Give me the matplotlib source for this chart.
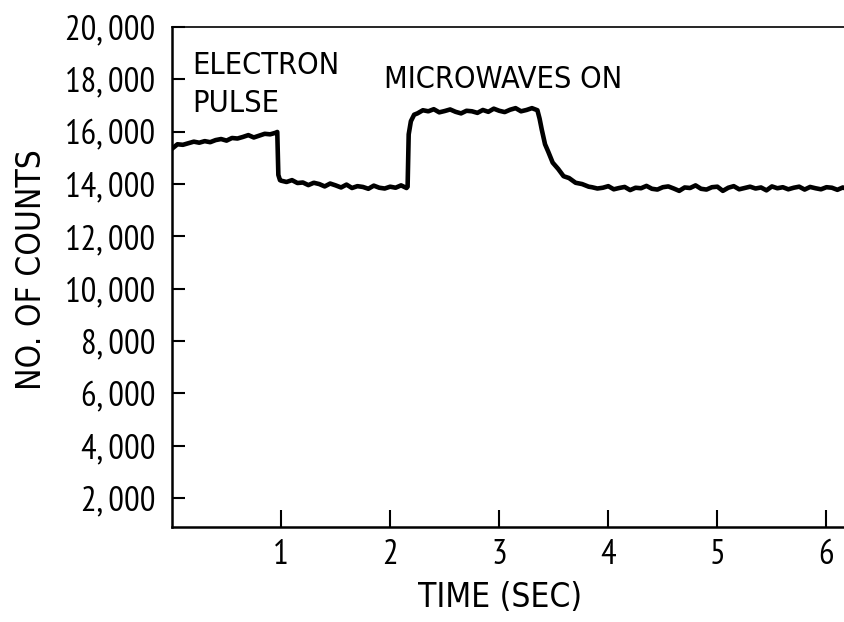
import matplotlib
matplotlib.use("Agg")
import matplotlib.pyplot as plt

plt.rcParams['font.family'] = ['PT Sans Narrow', 'DejaVu Sans']
label_font = dict(family='DejaVu Sans', stretch='condensed')

# trace, one segment at a time (time in sec, counts)
time_a = [0.00, 0.05, 0.10, 0.15, 0.20, 0.25, 0.30, 0.35, 0.40, 0.45,
          0.50, 0.55, 0.60, 0.65, 0.70, 0.75, 0.80, 0.85, 0.90, 0.95,
          0.965, 0.975, 0.99]
counts_a = [15350, 15520, 15500, 15560, 15620, 15580, 15640, 15600, 15680, 15720,
            15660, 15760, 15740, 15800, 15870, 15780, 15850, 15920, 15900, 15960,
            15990, 14350, 14150]

time_b = [1.00, 1.05, 1.10, 1.15, 1.20, 1.25, 1.30, 1.35, 1.40, 1.45,
          1.50, 1.55, 1.60, 1.65, 1.70, 1.75, 1.80, 1.85, 1.90, 1.95,
          2.00, 2.05, 2.10, 2.15, 2.16, 2.17, 2.19, 2.22]
counts_b = [14130, 14080, 14150, 14040, 14060, 13960, 14050, 14000, 13910, 14020,
            13950, 13870, 13980, 13850, 13920, 13890, 13820, 13940, 13860, 13830,
            13900, 13860, 13950, 13850, 13900, 15900, 16400, 16650]

time_c = [2.25, 2.30, 2.35, 2.40, 2.45, 2.50, 2.55, 2.60, 2.65, 2.70,
          2.75, 2.80, 2.85, 2.90, 2.95, 3.00, 3.05, 3.10, 3.15, 3.20,
          3.25, 3.30, 3.35, 3.37, 3.39, 3.42, 3.45, 3.49, 3.54, 3.59,
          3.64, 3.70, 3.76, 3.82]
counts_c = [16700, 16820, 16780, 16860, 16740, 16790, 16850, 16760, 16700, 16800,
            16780, 16720, 16830, 16760, 16880, 16800, 16750, 16840, 16900, 16780,
            16830, 16900, 16820, 16500, 16080, 15520, 15230, 14820, 14580, 14300,
            14230, 14050, 14000, 13900]

time_d = [3.85, 3.90, 3.95, 4.00, 4.05, 4.10, 4.15, 4.20, 4.25, 4.30,
          4.35, 4.40, 4.45, 4.50, 4.55, 4.60, 4.65, 4.70, 4.75, 4.80,
          4.85, 4.90, 4.95, 5.00, 5.05, 5.10, 5.15, 5.20, 5.25, 5.30,
          5.35, 5.40, 5.45, 5.50, 5.55, 5.60, 5.65, 5.70, 5.75, 5.80,
          5.85, 5.90, 5.95, 6.00, 6.05, 6.10, 6.15, 6.17]
counts_d = [13880, 13830, 13860, 13920, 13800, 13850, 13890, 13770, 13860, 13840,
            13930, 13820, 13790, 13880, 13910, 13830, 13740, 13870, 13850, 13950,
            13820, 13790, 13880, 13900, 13740, 13860, 13920, 13800, 13850, 13900,
            13830, 13870, 13760, 13910, 13840, 13880, 13800, 13860, 13900, 13790,
            13890, 13840, 13800, 13880, 13860, 13780, 13870, 13840]

x_ticks = [1, 2, 3, 4, 5, 6]
y_ticks = [2000, 4000, 6000, 8000, 10000, 12000, 14000, 16000, 18000, 20000]
y_tick_labels = ['2, 000', '4, 000', '6, 000', '8, 000', '10, 000',
                 '12, 000', '14, 000', '16, 000', '18, 000', '20, 000']

t = time_a + time_b + time_c + time_d
counts = counts_a + counts_b + counts_c + counts_d

fig = plt.figure(figsize=(8.45, 6.22), dpi=100)
ax = fig.add_axes([172 / 845, 1 - 527 / 622, 1 - 172 / 845, 500 / 622])

ax.plot(t, counts, color='black', lw=3.3, solid_joinstyle='round')

ax.set_xlim(0, 6.17)
ax.set_ylim(900, 20000)
ax.spines['right'].set_visible(False)
ax.spines['top'].set_linewidth(1.2)
ax.spines['left'].set_linewidth(1.8)
ax.spines['bottom'].set_linewidth(1.8)

ax.set_xticks(x_ticks)
ax.set_yticks(y_ticks)
ax.set_yticklabels(y_tick_labels)
ax.tick_params(axis='x', direction='in', length=12, width=1.5, labelsize=25, pad=9)
ax.tick_params(axis='y', direction='in', length=9, width=1.5, labelsize=25, pad=12)

# labels on the trace
ax.text(0.19, 18206, 'ELECTRON', fontsize=22, va='baseline', **label_font)
ax.text(0.19, 16756, 'PULSE', fontsize=22, va='baseline', **label_font)
ax.text(1.94, 17672, 'MICROWAVES ON', fontsize=22, va='baseline', **label_font)

fig.text(32 / 845, 1 - 270 / 622, 'NO. OF COUNTS', rotation=90,
         fontsize=24, ha='center', va='center', **label_font)
fig.text(500 / 845, 1 - 607 / 622, 'TIME (SEC)', fontsize=24,
         ha='center', va='baseline', **label_font)

fig.savefig('out.png', dpi=100)
